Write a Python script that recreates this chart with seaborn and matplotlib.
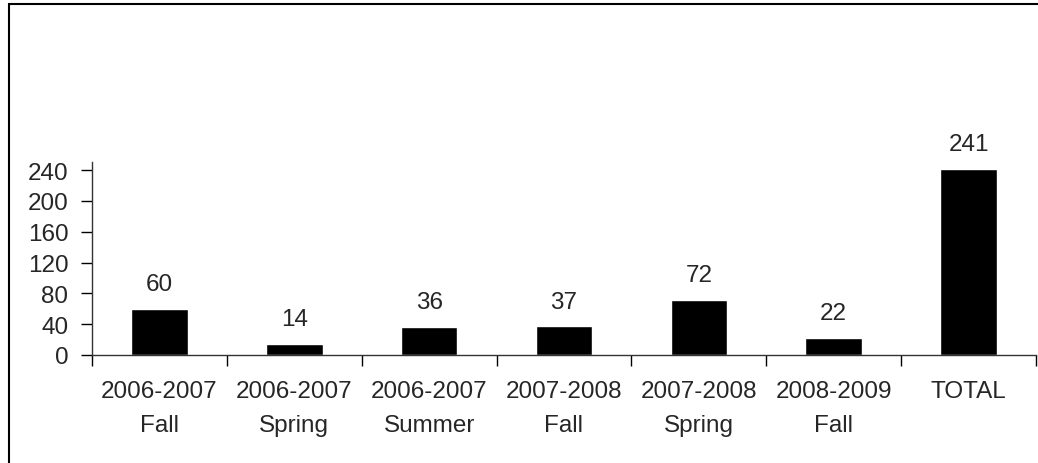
import matplotlib
matplotlib.use("Agg")
import matplotlib.pyplot as plt
import seaborn as sns
from matplotlib.patches import Rectangle

categories = ["2006-2007\nFall", "2006-2007\nSpring", "2006-2007\nSummer",
              "2007-2008\nFall", "2007-2008\nSpring", "2008-2009\nFall", "TOTAL"]
values = [60, 14, 36, 37, 72, 22, 241]
yticks = [0, 40, 80, 120, 160, 200, 240]

sns.set_style("white")
plt.rcParams["font.family"] = ["Liberation Sans", "DejaVu Sans"]
fs = 17.5

fig = plt.figure(figsize=(10.38, 4.64), dpi=100)
ax = fig.add_axes([92 / 1038, 1 - 356 / 464, (1036 - 92) / 1038, (356 - 163.3) / 464])

sns.barplot(x=categories, y=values, color="black", width=0.42, saturation=1, ax=ax)

for i, v in enumerate(values):
    ax.annotate(str(v), (i, v), xytext=(0, 10), textcoords="offset points",
                ha="center", va="bottom", fontsize=fs)

ax.set_ylim(0, 250)
ax.set_xlim(-0.5, 6.5)
ax.set_yticks(yticks)
ax.set_yticklabels([str(t) for t in yticks], fontsize=fs)
ax.set_xticks(range(len(categories)))
ax.set_xticklabels(categories, linespacing=1.7, fontsize=fs)
ax.set_xticks([i - 0.5 for i in range(len(categories) + 1)], minor=True)
ax.tick_params(axis="x", which="major", length=0, pad=18, bottom=False)
ax.tick_params(axis="x", which="minor", length=8, width=1, direction="out",
               color="black", bottom=True)
ax.tick_params(axis="y", length=8, width=1, direction="out", pad=9, left=True, color="black")
ax.set_xlabel("")
ax.set_ylabel("")

for s in ["top", "right"]:
    ax.spines[s].set_visible(False)
for s in ["left", "bottom"]:
    ax.spines[s].set_color("#333333")
    ax.spines[s].set_linewidth(1)

# outer chart border (cropped at right and bottom)
top = 1 - 5 / 464
fig.patches.append(Rectangle((9 / 1038, -0.5), 2, top + 0.5,
                             transform=fig.transFigure, fill=False,
                             edgecolor="black", linewidth=1.5))

fig.savefig("out.png", dpi=100, facecolor="white")
